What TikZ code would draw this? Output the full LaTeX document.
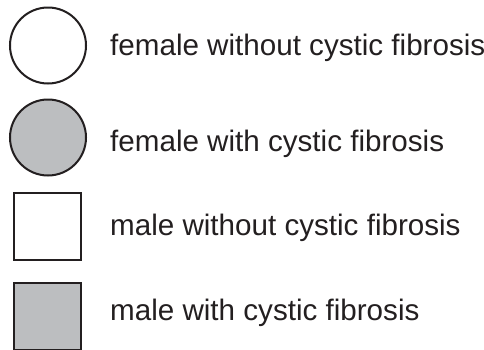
\documentclass[tikz,border=0pt]{standalone}
\usepackage{fontspec}
\setmainfont{Liberation Sans}
\usepackage{xcolor}
\usepackage{tikz}
\usetikzlibrary{positioning}

\definecolor{inkdark}{HTML}{231F20}
\definecolor{cfgray}{HTML}{BCBEC0}

\begin{document}
\begin{tikzpicture}[
        x=1pt, y=-1pt,
        femalesym/.style={circle, minimum size=76pt, inner sep=0pt, draw=inkdark, line width=2pt},
        malesym/.style={rectangle, minimum size=67pt, inner sep=0pt, draw=inkdark, line width=2pt},
        affected/.style={fill=cfgray},
        unaffected/.style={fill=white},
        legendtext/.style={anchor=base west, inner sep=0pt, font=\fontsize{29.6}{34}\selectfont, text=inkdark}
    ]
        \useasboundingbox (0,0) rectangle (484,349);
        
        % Symbols
        \node (femaleno) [femalesym, unaffected] at (48,45.5) {};
        \node (femalecf) [femalesym, affected] at (48,137.5) {};
        \node (maleno) [malesym, unaffected] at (47.5,226.5) {};
        \node (malecf) [malesym, affected] at (47.5,316.5) {};
        
        % Labels
        \node (femalenotext) [legendtext] at (110,55) {female without cystic fibrosis};
        \node (femalecftext) [legendtext] at (110,151) {female with cystic fibrosis};
        \node (malenotext) [legendtext] at (110,235) {male without cystic fibrosis};
        \node (malecftext) [legendtext] at (110,320) {male with cystic fibrosis};
    \end{tikzpicture}
\end{document}
